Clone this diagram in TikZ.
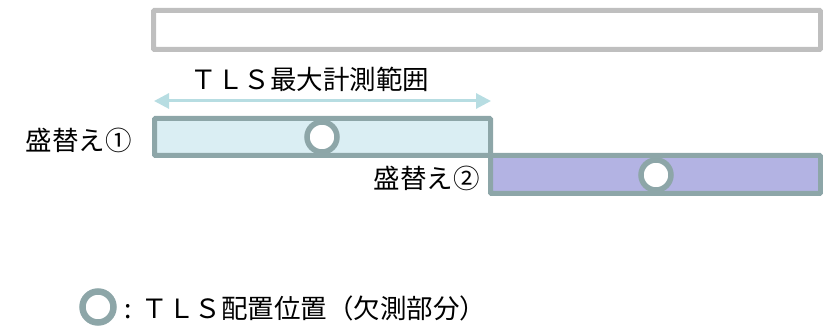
\documentclass[tikz,border=0pt]{standalone}
\usepackage{fontspec}
\newfontfamily\jpfont{Noto Sans CJK JP}
\usetikzlibrary{arrows.meta}
\definecolor{framegray}{HTML}{BFBFBF}
\definecolor{edgeteal}{HTML}{8DA6A8}
\definecolor{paleblue}{HTML}{DAEEF3}
\definecolor{lavender}{HTML}{B3B3E3}
\definecolor{arrowcyan}{HTML}{B7DDE2}
\tikzset{
  band/.style={draw=edgeteal, line width=5pt, rounded corners=1pt},
  tls/.style={draw=edgeteal, fill=white, line width=5.5pt},
  lbl/.style={font=\jpfont\fontsize{26.5}{30}\selectfont, inner sep=0pt}
}
\begin{document}
\begin{tikzpicture}[x=1pt, y=-1pt]
\useasboundingbox (0,0) rectangle (823,328);
% whole range
\draw[draw=framegray, line width=5pt, rounded corners=1pt] (153.5,10.5) rectangle (820.5,49.5);
% max range
\coordinate (rangeL) at (154,101);
\coordinate (rangeR) at (491,101);
\draw[arrowcyan, line width=3pt, {Triangle[length=15pt,width=15pt]}-{Triangle[length=15pt,width=15pt]}] (rangeL) -- (rangeR);
\node[lbl, above] (rangetext) at (310,92) {ＴＬＳ最大計測範囲};
% set 1 and 2
\draw[band, fill=paleblue] (154.5,118.5) rectangle (490.5,155.5);
\draw[band, fill=lavender] (490.5,155.5) rectangle (820.5,193.5);
\node[tls, circle, minimum size=30pt, inner sep=0pt] (tls1) at (322,137) {};
\node[tls, circle, minimum size=30pt, inner sep=0pt] (tls2) at (656,175) {};
\node[lbl, anchor=east] (set1) at (132,140) {盛替え①};
\node[lbl, anchor=east] (set2) at (480,178) {盛替え②};
% legend
\node[tls, circle, minimum size=31pt, inner sep=0pt, line width=6.5pt] (legmark) at (98,307) {};
\node[lbl, anchor=west] (legtext) at (124,308) {:\hspace{10pt}ＴＬＳ配置位置（欠測部分）};
\end{tikzpicture}
\end{document}
